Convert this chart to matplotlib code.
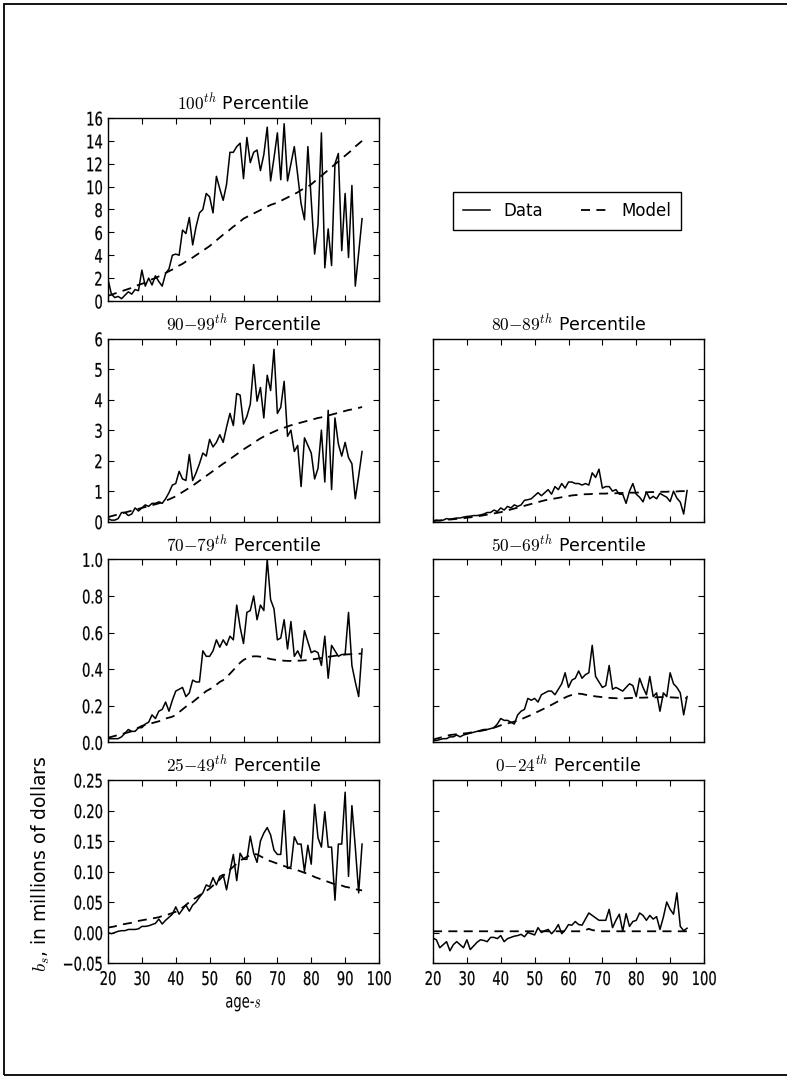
import numpy as np
import matplotlib
matplotlib.use('Agg')
import matplotlib.pyplot as plt
from matplotlib.lines import Line2D
from matplotlib.patches import Rectangle
from matplotlib.patheffects import AbstractPathEffect
from matplotlib.transforms import Affine2D

plt.rcParams['mathtext.fontset'] = 'cm'
plt.rcParams['font.family'] = 'DejaVu Sans'
plt.rcParams['font.size'] = 12
plt.rcParams['xtick.direction'] = 'in'
plt.rcParams['ytick.direction'] = 'in'
plt.rcParams['xtick.top'] = True
plt.rcParams['ytick.right'] = True
plt.rcParams['xtick.major.size'] = 4
plt.rcParams['ytick.major.size'] = 4
plt.rcParams['xtick.major.pad'] = 5

ages = np.arange(20, 96)

# bequests by lifetime income group, data vs. model (millions of dollars)
p100_data = [1.9, 0.6, 0.3, 0.4, 0.2, 0.5, 0.8, 0.6, 1.0, 0.9,
             2.7, 1.3, 2.0, 1.4, 2.2, 1.7, 1.3, 2.4, 2.8, 4.0,
             4.1, 4.0, 6.2, 5.9, 7.3, 4.9, 6.5, 7.7, 8.0, 9.4,
             9.1, 7.7, 10.9, 9.8, 8.8, 10.2, 13.0, 13.0, 13.5, 13.8,
             10.7, 14.3, 12.1, 13.0, 13.2, 11.4, 12.8, 15.2, 10.5, 12.5,
             14.7, 10.6, 15.5, 10.5, 12.0, 13.5, 11.0, 8.5, 7.1, 13.5,
             8.8, 4.1, 6.7, 14.7, 2.9, 6.3, 3.1, 12.0, 12.9, 4.4,
             9.4, 3.8, 10.1, 1.3, 4.2, 7.2]
p100_model = [0.45, 0.55, 0.65, 0.75, 0.85, 0.95, 1.05, 1.15, 1.3, 1.4,
              1.5, 1.6, 1.75, 1.9, 2.0, 2.15, 2.3, 2.45, 2.6, 2.75,
              2.9, 3.1, 3.25, 3.45, 3.6, 3.8, 4.0, 4.2, 4.4, 4.6,
              4.8, 5.05, 5.3, 5.55, 5.8, 6.0, 6.25, 6.5, 6.7, 6.95,
              7.2, 7.35, 7.5, 7.65, 7.8, 7.95, 8.1, 8.25, 8.4, 8.5,
              8.6, 8.75, 8.9, 9.05, 9.2, 9.35, 9.5, 9.7, 9.85, 10.0,
              10.2, 10.45, 10.7, 10.95, 11.2, 11.45, 11.7, 11.95, 12.2, 12.45,
              12.7, 12.95, 13.2, 13.5, 13.75, 14.0]

p90_data = [0.1, 0.05, 0.05, 0.1, 0.3, 0.3, 0.2, 0.25, 0.45, 0.35,
            0.45, 0.55, 0.5, 0.6, 0.6, 0.65, 0.6, 0.75, 0.95, 1.2,
            1.25, 1.65, 1.4, 1.35, 2.2, 1.35, 1.6, 1.9, 2.25, 2.15,
            2.7, 2.45, 2.6, 2.85, 2.6, 3.1, 3.55, 3.15, 4.2, 4.15,
            3.2, 3.45, 3.85, 5.15, 3.95, 4.4, 3.4, 4.8, 4.3, 5.65,
            3.55, 3.75, 4.6, 2.8, 3.0, 2.3, 2.5, 1.15, 2.75, 2.5,
            2.25, 1.4, 1.75, 3.0, 1.3, 3.65, 1.05, 3.4, 2.55, 2.15,
            2.6, 2.1, 1.9, 0.75, 1.5, 2.3]
p90_model = [0.15, 0.18, 0.21, 0.24, 0.27, 0.3, 0.33, 0.36, 0.39, 0.42,
             0.45, 0.48, 0.51, 0.54, 0.57, 0.6, 0.64, 0.68, 0.73, 0.78,
             0.83, 0.9, 0.97, 1.04, 1.11, 1.18, 1.26, 1.34, 1.42, 1.5,
             1.58, 1.66, 1.74, 1.82, 1.9, 1.97, 2.05, 2.13, 2.21, 2.29,
             2.37, 2.44, 2.51, 2.58, 2.66, 2.73, 2.79, 2.85, 2.9, 2.95,
             3.0, 3.04, 3.08, 3.12, 3.16, 3.19, 3.22, 3.25, 3.28, 3.31,
             3.34, 3.37, 3.4, 3.42, 3.45, 3.48, 3.51, 3.54, 3.57, 3.6,
             3.63, 3.66, 3.68, 3.7, 3.73, 3.76]

p80_data = [0.03, 0.05, 0.03, 0.05, 0.1, 0.08, 0.1, 0.12, 0.12, 0.15,
            0.17, 0.18, 0.2, 0.2, 0.22, 0.25, 0.3, 0.3, 0.38, 0.33,
            0.45, 0.38, 0.5, 0.45, 0.55, 0.5, 0.55, 0.7, 0.72, 0.75,
            0.85, 0.95, 0.85, 0.95, 1.05, 0.9, 1.15, 1.05, 1.25, 1.1,
            1.3, 1.3, 1.25, 1.25, 1.2, 1.25, 1.2, 1.6, 1.45, 1.72,
            1.1, 1.15, 1.15, 1.0, 1.05, 0.9, 0.9, 0.6, 1.0, 1.25,
            0.9, 0.8, 0.65, 0.97, 0.75, 0.83, 0.75, 0.93, 0.86, 0.8,
            0.66, 1.0, 0.77, 0.64, 0.25, 1.02]
p80_model = [0.02, 0.03, 0.04, 0.05, 0.06, 0.07, 0.08, 0.09, 0.1, 0.11,
             0.13, 0.14, 0.16, 0.17, 0.19, 0.21, 0.23, 0.25, 0.27, 0.29,
             0.31, 0.34, 0.37, 0.4, 0.43, 0.46, 0.49, 0.52, 0.55, 0.58,
             0.61, 0.64, 0.67, 0.7, 0.72, 0.74, 0.76, 0.78, 0.8, 0.82,
             0.84, 0.86, 0.87, 0.88, 0.89, 0.9, 0.9, 0.91, 0.91, 0.92,
             0.92, 0.92, 0.93, 0.93, 0.93, 0.94, 0.94, 0.94, 0.95, 0.95,
             0.95, 0.96, 0.96, 0.96, 0.97, 0.97, 0.97, 0.98, 0.98, 0.98,
             0.99, 0.99, 0.99, 1.0, 1.0, 1.0]

p70_data = [0.02, 0.02, 0.02, 0.02, 0.03, 0.05, 0.07, 0.06, 0.06, 0.08,
            0.08, 0.1, 0.11, 0.15, 0.13, 0.17, 0.18, 0.22, 0.17, 0.23,
            0.28, 0.29, 0.3, 0.25, 0.27, 0.34, 0.33, 0.33, 0.5, 0.47,
            0.47, 0.5, 0.56, 0.52, 0.56, 0.53, 0.58, 0.56, 0.75, 0.63,
            0.54, 0.71, 0.72, 0.8, 0.67, 0.75, 0.72, 1.0, 0.78, 0.73,
            0.56, 0.57, 0.67, 0.51, 0.66, 0.47, 0.5, 0.46, 0.61, 0.55,
            0.49, 0.5, 0.49, 0.42, 0.58, 0.35, 0.53, 0.5, 0.47, 0.48,
            0.48, 0.71, 0.42, 0.33, 0.25, 0.51]
p70_model = [0.025, 0.03, 0.035, 0.04, 0.045, 0.05, 0.055, 0.06, 0.07, 0.08,
             0.09, 0.095, 0.1, 0.105, 0.11, 0.115, 0.12, 0.13, 0.135, 0.14,
             0.15, 0.165, 0.18, 0.195, 0.21, 0.22, 0.235, 0.25, 0.265, 0.28,
             0.29, 0.3, 0.315, 0.33, 0.34, 0.355, 0.375, 0.395, 0.415, 0.435,
             0.45, 0.46, 0.467, 0.47, 0.47, 0.468, 0.465, 0.46, 0.455, 0.452,
             0.45, 0.448, 0.446, 0.445, 0.445, 0.445, 0.446, 0.447, 0.448, 0.45,
             0.452, 0.455, 0.458, 0.461, 0.464, 0.467, 0.47, 0.473, 0.476, 0.478,
             0.48, 0.481, 0.482, 0.483, 0.484, 0.485]

p50_data = [0.01, 0.01, 0.015, 0.02, 0.02, 0.03, 0.03, 0.04, 0.03, 0.04,
            0.045, 0.05, 0.055, 0.06, 0.065, 0.07, 0.07, 0.075, 0.08, 0.1,
            0.13, 0.12, 0.12, 0.11, 0.1, 0.15, 0.17, 0.18, 0.24, 0.23,
            0.24, 0.22, 0.26, 0.27, 0.28, 0.28, 0.26, 0.29, 0.32, 0.38,
            0.3, 0.34, 0.35, 0.39, 0.35, 0.37, 0.38, 0.53, 0.36, 0.33,
            0.3, 0.31, 0.42, 0.29, 0.3, 0.29, 0.28, 0.3, 0.32, 0.31,
            0.25, 0.35, 0.3, 0.26, 0.36, 0.25, 0.27, 0.17, 0.27, 0.25,
            0.38, 0.32, 0.3, 0.27, 0.15, 0.25]
p50_model = [0.015, 0.02, 0.025, 0.03, 0.035, 0.04, 0.042, 0.044, 0.046, 0.048,
             0.05, 0.053, 0.056, 0.059, 0.062, 0.066, 0.07, 0.075, 0.08, 0.086,
             0.093, 0.098, 0.103, 0.108, 0.113, 0.118, 0.126, 0.134, 0.142, 0.15,
             0.16, 0.168, 0.177, 0.186, 0.195, 0.205, 0.215, 0.225, 0.235, 0.245,
             0.253, 0.259, 0.264, 0.266, 0.264, 0.26, 0.257, 0.254, 0.251, 0.249,
             0.247, 0.245, 0.243, 0.242, 0.241, 0.24, 0.24, 0.241, 0.242, 0.243,
             0.243, 0.244, 0.244, 0.245, 0.245, 0.246, 0.246, 0.247, 0.247, 0.247,
             0.246, 0.245, 0.244, 0.243, 0.242, 0.242]

p25_data = [0.0, -0.002, 0.0, 0.002, 0.003, 0.003, 0.005, 0.005, 0.005, 0.006,
            0.01, 0.01, 0.011, 0.013, 0.015, 0.022, 0.014, 0.02, 0.025, 0.03,
            0.042, 0.03, 0.038, 0.045, 0.035, 0.045, 0.05, 0.058, 0.065, 0.078,
            0.075, 0.09, 0.078, 0.092, 0.095, 0.07, 0.1, 0.128, 0.085, 0.13,
            0.12, 0.12, 0.158, 0.13, 0.115, 0.15, 0.163, 0.172, 0.16, 0.135,
            0.128, 0.128, 0.2, 0.105, 0.108, 0.157, 0.145, 0.145, 0.1, 0.143,
            0.112, 0.21, 0.155, 0.14, 0.198, 0.14, 0.14, 0.053, 0.145, 0.145,
            0.23, 0.092, 0.208, 0.14, 0.065, 0.145]
p25_model = [0.008, 0.009, 0.01, 0.012, 0.013, 0.014, 0.015, 0.016, 0.018, 0.019,
             0.02, 0.021, 0.022, 0.023, 0.024, 0.025, 0.027, 0.028, 0.03, 0.032,
             0.034, 0.037, 0.041, 0.045, 0.05, 0.054, 0.057, 0.061, 0.064, 0.068,
             0.072, 0.077, 0.082, 0.087, 0.093, 0.098, 0.103, 0.108, 0.113, 0.118,
             0.121, 0.124, 0.127, 0.129, 0.128, 0.125, 0.122, 0.119, 0.117, 0.115,
             0.113, 0.111, 0.109, 0.107, 0.105, 0.104, 0.102, 0.1, 0.098, 0.096,
             0.094, 0.091, 0.089, 0.087, 0.085, 0.083, 0.081, 0.079, 0.078, 0.077,
             0.075, 0.074, 0.072, 0.071, 0.07, 0.069]

p0_data = [-0.009, -0.012, -0.025, -0.02, -0.015, -0.03, -0.02, -0.015, -0.02, -0.025,
           -0.012, -0.028, -0.022, -0.016, -0.012, -0.013, -0.015, -0.008, -0.008, -0.01,
           -0.005, -0.015, -0.01, -0.008, -0.006, -0.005, -0.003, -0.007, 0.0, -0.002,
           -0.004, 0.008, 0.0, 0.003, 0.005, -0.002, 0.004, 0.013, -0.002, 0.004,
           0.013, 0.012, 0.018, 0.013, 0.012, 0.022, 0.032, 0.028, 0.024, 0.02,
           0.02, 0.02, 0.038, 0.008, 0.02, 0.03, 0.002, 0.031, 0.01, 0.018,
           0.02, 0.032, 0.028, 0.02, 0.028, 0.022, 0.026, 0.005, 0.025, 0.05,
           0.038, 0.03, 0.065, 0.01, 0.003, 0.007]
p0_model = [0.002, 0.002, 0.002, 0.002, 0.002, 0.002, 0.002, 0.002, 0.002, 0.002,
            0.002, 0.002, 0.002, 0.002, 0.002, 0.002, 0.002, 0.002, 0.002, 0.002,
            0.002, 0.002, 0.002, 0.002, 0.002, 0.002, 0.002, 0.002, 0.002, 0.002,
            0.002, 0.002, 0.002, 0.002, 0.002, 0.002, 0.002, 0.002, 0.002, 0.002,
            0.002, 0.002, 0.002, 0.002, 0.002, 0.004, 0.006, 0.004, 0.003, 0.002,
            0.002, 0.002, 0.002, 0.002, 0.002, 0.002, 0.002, 0.002, 0.002, 0.002,
            0.002, 0.002, 0.002, 0.002, 0.002, 0.002, 0.002, 0.002, 0.002, 0.002,
            0.002, 0.002, 0.002, 0.002, 0.002, 0.002]

titles = [r'$100^{th}$ Percentile', None,
          r'$90{-}99^{th}$ Percentile', r'$80{-}89^{th}$ Percentile',
          r'$70{-}79^{th}$ Percentile', r'$50{-}69^{th}$ Percentile',
          r'$25{-}49^{th}$ Percentile', r'$0{-}24^{th}$ Percentile']
series = [(p100_data, p100_model), None,
          (p90_data, p90_model), (p80_data, p80_model),
          (p70_data, p70_model), (p50_data, p50_model),
          (p25_data, p25_model), (p0_data, p0_model)]
row_yticks = [np.arange(0, 17, 2), np.arange(0, 7, 1),
              np.arange(0, 1.01, 0.2), np.arange(-0.05, 0.26, 0.05)]
row_ylim = [(0, 16), (0, 6), (0, 1.0), (-0.05, 0.25)]
row_fmt = ['%d', '%d', '%.1f', '%.2f']


class Squeeze(AbstractPathEffect):
    """Narrow a text horizontally, keeping the point at `align` fixed."""

    def __init__(self, sx, align, lw=0.0):
        super().__init__()
        self.sx = sx
        self.align = align
        self.lw = lw

    def draw_path(self, renderer, gc, tpath, affine, rgbFace=None):
        ext = tpath.get_extents()
        x0 = ext.x0 + (ext.x1 - ext.x0) * self.align
        local = Affine2D().translate(-x0, 0).scale(self.sx, 1).translate(x0, 0)
        gc0 = renderer.new_gc()
        gc0.copy_properties(gc)
        gc0.set_linewidth(self.lw)
        gc0.set_foreground(rgbFace)
        renderer.draw_path(gc0, tpath, local + affine, rgbFace)
        gc0.restore()


W, H = 787, 1078
fig, axes = plt.subplots(4, 2, figsize=(W / 100, H / 100), dpi=100,
                         sharex=True, sharey='row',
                         gridspec_kw=dict(left=108 / W, right=704 / W,
                                          top=1 - 118 / H, bottom=1 - 963 / H,
                                          wspace=54 / 271, hspace=37.7 / 183))

for k, ax in enumerate(axes.flat):
    r = k // 2
    if series[k] is None:
        ax.axis('off')
        continue
    data, model = series[k]
    ax.plot(ages, data, color='k', lw=1.1)
    ax.plot(ages, model, color='k', lw=1.3, ls='--', dashes=(5, 3.5))
    ax.set_title(titles[k], fontsize=12.5)
    ax.set_xlim(20, 100)
    ax.set_xticks(np.arange(20, 101, 10))
    ax.set_ylim(*row_ylim[r])
    ax.set_yticks(row_yticks[r])
    ax.set_yticklabels([(row_fmt[r] % v).replace('-', '\u2212') for v in row_yticks[r]])
    for sp in ax.spines.values():
        sp.set_linewidth(1.0)

# narrow tick labels
for ax in axes.flat:
    if not ax.axison:
        continue
    for lab in ax.get_xticklabels():
        lab.set_fontsize(13.5)
        lab.set_path_effects([Squeeze(0.7, 0.5, lw=0.15)])
    for lab in ax.get_yticklabels():
        lab.set_fontsize(13.5)
        lab.set_path_effects([Squeeze(0.7, 1.0, lw=0.15)])

ax = axes[3, 0]
xl = ax.set_xlabel(r'age-$s$', fontsize=13.5)
xl.set_path_effects([Squeeze(0.7, 0.5)])
ax.set_ylabel(r'$b_s$, in millions of dollars', fontsize=13.5)
ax.yaxis.set_label_coords(-0.207, 0.545)

handles = [Line2D([], [], color='k', lw=1.1),
           Line2D([], [], color='k', lw=1.3, ls='--', dashes=(5, 3.5))]
fig.legend(handles, ['Data', 'Model'], loc='center', ncol=2,
           bbox_to_anchor=(567 / W, 1 - 211 / H), fontsize=12,
           fancybox=False, edgecolor='k', framealpha=1, handlelength=1.6,
           columnspacing=2.3, borderpad=0.6)

fig.add_artist(Rectangle((3.5 / W, 3 / H), 1.0, 1 - 7 / H, fill=False,
                         lw=1.3, ec='k', transform=fig.transFigure))

fig.savefig('out.png', dpi=100)
